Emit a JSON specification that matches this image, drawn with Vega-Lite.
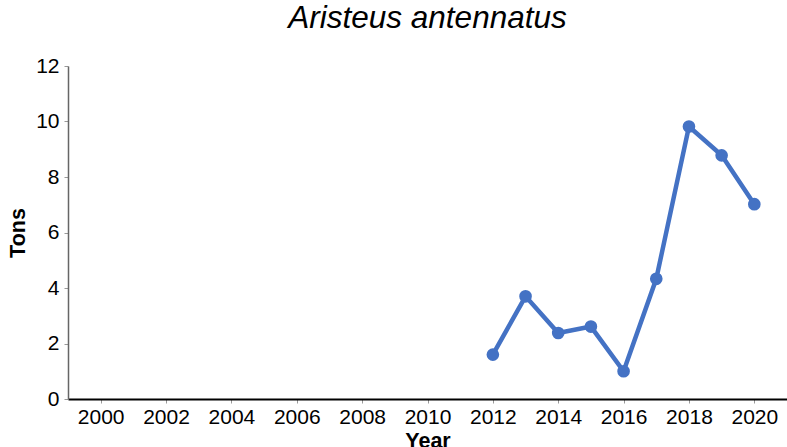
{
  "$schema": "https://vega.github.io/schema/vega-lite/v6.json",
  "width": 719,
  "height": 333,
  "autosize": "none",
  "padding": {"left": 68, "top": 66, "right": 0, "bottom": 48},
  "background": "white",
  "config": {
    "view": {"stroke": null},
    "font": "Liberation Sans"
  },
  "title": {
    "text": "Aristeus antennatus",
    "font": "Liberation Sans",
    "fontStyle": "italic",
    "fontWeight": "normal",
    "fontSize": 31.5,
    "color": "#000000",
    "anchor": "middle",
    "offset": 21
  },
  "data": {
    "values": [
      {"Year": 2012, "Tons": 1.6},
      {"Year": 2013, "Tons": 3.7},
      {"Year": 2014, "Tons": 2.38},
      {"Year": 2015, "Tons": 2.61},
      {"Year": 2016, "Tons": 1.0},
      {"Year": 2017, "Tons": 4.33},
      {"Year": 2018, "Tons": 9.82},
      {"Year": 2019, "Tons": 8.78},
      {"Year": 2020, "Tons": 7.02}
    ]
  },
  "mark": {
    "type": "line",
    "color": "#4472c4",
    "strokeWidth": 4.5,
    "point": {"filled": true, "size": 160, "color": "#4472c4", "opacity": 1}
  },
  "encoding": {
    "x": {
      "field": "Year",
      "type": "quantitative",
      "scale": {"domain": [1999, 2021], "nice": false, "zero": false},
      "axis": {
        "values": [2000, 2002, 2004, 2006, 2008, 2010, 2012, 2014, 2016, 2018, 2020],
        "format": "d",
        "grid": false,
        "domainColor": "#000000",
        "domainWidth": 2,
        "tickColor": "#999999",
        "tickSize": 4,
        "tickWidth": 1,
        "labelFont": "Liberation Sans",
        "labelFontSize": 21,
        "labelColor": "#000000",
        "labelPadding": 3,
        "labelFlush": false,
        "title": "Year",
        "titleFont": "Liberation Sans",
        "titleFontSize": 21.5,
        "titleFontWeight": "bold",
        "titleColor": "#000000",
        "titlePadding": 3
      }
    },
    "y": {
      "field": "Tons",
      "type": "quantitative",
      "scale": {"domain": [0, 12], "nice": false},
      "axis": {
        "values": [0, 2, 4, 6, 8, 10, 12],
        "grid": false,
        "domainColor": "#666666",
        "domainWidth": 1.5,
        "tickColor": "#999999",
        "tickSize": 4,
        "tickWidth": 1,
        "labelFont": "Liberation Sans",
        "labelFontSize": 21,
        "labelColor": "#000000",
        "labelPadding": 5,
        "labelFlush": false,
        "title": "Tons",
        "titleFont": "Liberation Sans",
        "titleFontSize": 21.5,
        "titleFontWeight": "bold",
        "titleColor": "#000000",
        "titlePadding": 6
      }
    }
  }
}
